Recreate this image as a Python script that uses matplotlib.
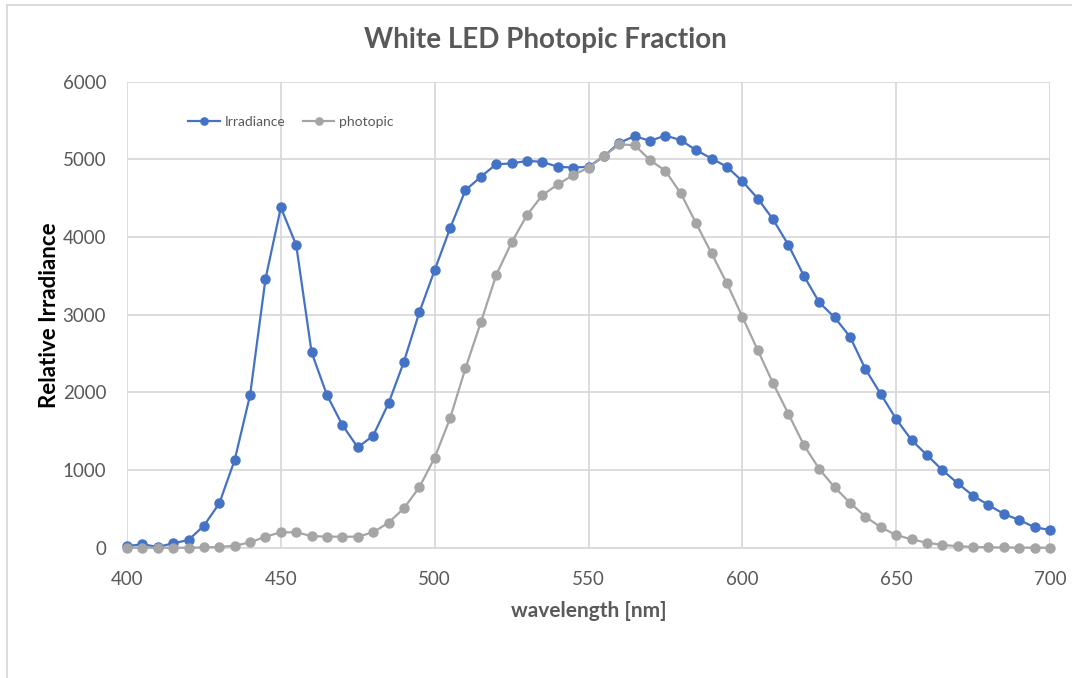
import numpy as np
import matplotlib
matplotlib.use("Agg")
import matplotlib.pyplot as plt
from matplotlib.lines import Line2D

plt.rcParams['font.family'] = ['Lato', 'DejaVu Sans']

wavelength = list(range(400, 701, 5))

irradiance = [
    20, 44, 10, 56, 100, 283, 571, 1129, 1965, 3458,
    4381, 3896, 2515, 1965, 1579, 1292, 1442, 1858, 2394, 3029,
    3574, 4111, 4603, 4775, 4938, 4947, 4981, 4968, 4904, 4895,
    4904, 5041, 5213, 5299, 5238, 5307, 5247, 5118, 5011, 4904,
    4719, 4496, 4226, 3896, 3501, 3158, 2965, 2716, 2300, 1978,
    1656, 1386, 1193, 1000, 829, 669, 550, 434, 357, 263,
    228,
]

photopic = [
    0, 0, 0, 0, 0, 3, 10, 25, 69, 142,
    198, 198, 150, 142, 142, 142, 198, 322, 507, 777,
    1158, 1665, 2309, 2901, 3510, 3930, 4282, 4539, 4677, 4797,
    4895, 5041, 5192, 5183, 4990, 4852, 4561, 4175, 3789, 3403,
    2973, 2544, 2116, 1721, 1322, 1013, 777, 579, 399, 263,
    163, 108, 64, 35, 20, 10, 5, 3, 2, 1,
    0,
]

x_ticks = [400, 450, 500, 550, 600, 650, 700]
y_ticks = [0, 1000, 2000, 3000, 4000, 5000, 6000]

BLUE = "#4472C4"
GREY = "#A5A5A5"
TXT = "#595959"
GRID = "#D9D9D9"

fig = plt.figure(figsize=(10.72, 6.78), dpi=100)
ax = fig.add_axes([127 / 1072, 1 - 547.7 / 678, (1050 - 127) / 1072, (547.7 - 81.7) / 678])

ax.plot(wavelength, irradiance, color=BLUE, lw=1.6, marker="o", ms=6.5,
        label="Irradiance", zorder=3, clip_on=False)
ax.plot(wavelength, photopic, color=GREY, lw=1.6, marker="o", ms=6.5,
        label="photopic", zorder=4, clip_on=False)

ax.set_xlim(400, 700)
ax.set_ylim(0, 6000)
ax.set_xticks(x_ticks)
ax.set_yticks(y_ticks)
ax.grid(True, color=GRID, lw=1.3)
ax.set_axisbelow(True)
for s in ["top", "right", "left"]:
    ax.spines[s].set_visible(False)
ax.spines["bottom"].set_color(GRID)
ax.spines["bottom"].set_linewidth(1.3)
ax.tick_params(length=0, labelsize=13.5, labelcolor=TXT)
ax.tick_params(axis="y", pad=15)
ax.tick_params(axis="x", pad=17)

ax.set_xlabel("wavelength [nm]", fontsize=15, fontweight="bold", color=TXT, labelpad=9)
ax.set_ylabel("Relative Irradiance", fontsize=16, fontweight="bold", color="black", labelpad=2)

fig.text(0.509, 1 - 40 / 678, "White LED Photopic Fraction", ha="center", va="center",
         fontsize=20, fontweight="bold", color=TXT)

ax.legend(loc="center left", bbox_to_anchor=(0.164, 1 - 122 / 678),
          bbox_transform=fig.transFigure, ncol=2, frameon=False, fontsize=10,
          labelcolor=TXT, handlelength=2.3, handletextpad=0.35, columnspacing=1.2,
          markerscale=0.8)

# chart frame (top and left edges)
fig.add_artist(Line2D([7 / 1072, 1], [1 - 5 / 678, 1 - 5 / 678], transform=fig.transFigure,
                      color=GRID, lw=1.3))
fig.add_artist(Line2D([7 / 1072, 7 / 1072], [0, 1 - 5 / 678], transform=fig.transFigure,
                      color=GRID, lw=1.3))

fig.savefig("out.png", dpi=100)
